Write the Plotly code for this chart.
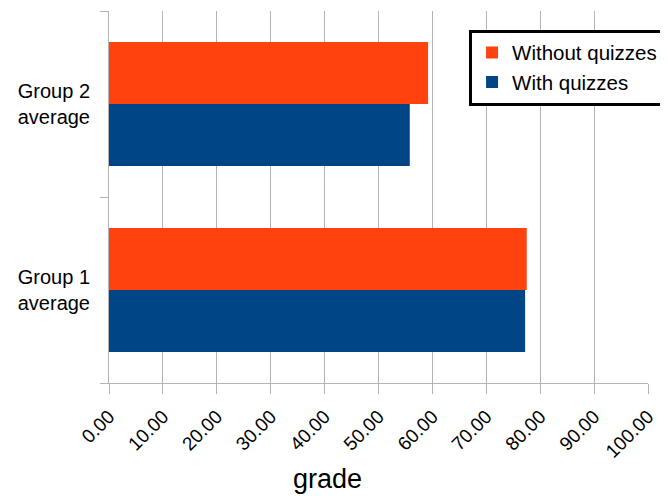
import plotly.graph_objects as go

categories = ["Group 1<br>average", "Group 2<br>average"]
with_quizzes = [77.2, 55.8]
without_quizzes = [77.5, 59.2]
tick_vals = [0, 10, 20, 30, 40, 50, 60, 70, 80, 90, 100]
tick_text = ["%.2f" % v for v in tick_vals]
x_title = "grade"

fig = go.Figure()
fig.add_trace(go.Bar(y=categories, x=with_quizzes, orientation="h",
                     name="With quizzes", marker=dict(color="#004586", line=dict(width=0))))
fig.add_trace(go.Bar(y=categories, x=without_quizzes, orientation="h",
                     name="Without quizzes", marker=dict(color="#FF420E", line=dict(width=0))))

fig.add_annotation(text=x_title, xref="paper", yref="paper", x=0.4045, y=-0.258,
                   xanchor="center", yanchor="middle", showarrow=False,
                   font=dict(size=27, color="#000000"))

fig.update_layout(
    width=660, height=488,
    margin=dict(l=101, r=20, t=3, b=113),
    paper_bgcolor="white", plot_bgcolor="white",
    font=dict(family="Liberation Sans, Arial, sans-serif", color="#000000"),
    barmode="group", bargap=0.333, bargroupgap=0,
    showlegend=True,
    legend=dict(x=0.668, y=0.95, xanchor="left", yanchor="top",
                traceorder="reversed", bordercolor="#000000", borderwidth=3,
                bgcolor="white", font=dict(size=20.5), itemsizing="constant",
                tracegroupgap=0),
    xaxis=dict(range=[0, 100], tickvals=tick_vals, ticktext=tick_text,
               tickangle=-45, tickfont=dict(size=19, color="#000000"),
               ticklabelstandoff=4,
               showgrid=True, gridcolor="#b3b3b3", gridwidth=1,
               showline=True, linecolor="#b3b3b3", linewidth=1,
               ticks="outside", ticklen=10, tickcolor="#b3b3b3",
               zeroline=False, automargin=False),
    yaxis=dict(tickfont=dict(size=20, color="#000000"),
               ticklabelstandoff=14,
               showline=True, linecolor="#b3b3b3", linewidth=1,
               ticks="outside", ticklen=8, tickcolor="#b3b3b3",
               tickson="boundaries", showgrid=False, zeroline=False,
               automargin=False),
)

fig.write_html("out.html")
